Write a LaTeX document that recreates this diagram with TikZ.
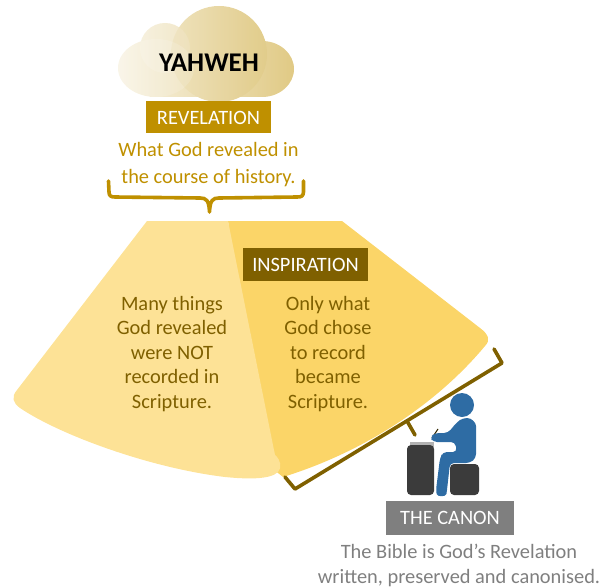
\documentclass[tikz,border=0pt]{standalone}
\usepackage{xcolor}
\usepackage{fontspec}
\setmainfont{Carlito}
\usepackage{tikz}
\usetikzlibrary{positioning,shapes}
\definecolor{revgold}{HTML}{BF9000}
\definecolor{insbrown}{HTML}{7F6000}
\definecolor{canongrey}{HTML}{7F7F7F}
\definecolor{fanlight}{HTML}{FDE296}
\definecolor{fandark}{HTML}{FBD568}
\definecolor{figblue}{HTML}{2E6CA4}
\definecolor{figdark}{HTML}{3B3B3B}

\begin{document}
\begin{tikzpicture}[x=1pt,y=-1pt,
        titlebox/.style={minimum width=#1, minimum height=32pt, inner sep=0pt, text=white, font=\fontsize{20.4}{20.4}\selectfont},
        bodytext/.style={align=center, inner sep=0pt, font=\fontsize{20.4}{24.5}\selectfont},
        bracket/.style={line width=3.6pt, line cap=round, line join=round}]
        \useasboundingbox (0,0) rectangle (607,588);

        % cloud
        \path[left color=revgold!10, right color=revgold!48, draw=none]
            (165,48) circle [radius=25]
            (219,54) circle [radius=48]
            (156,68) ellipse [x radius=38, y radius=29]
            (262,69) ellipse [x radius=32, y radius=28]
            (150,72) -- (265,72) -- (265,97) -- (150,97) -- cycle;
        \fill[white, opacity=0.15] (165,48) circle [radius=25];
        \fill[revgold, opacity=0.06] (219,54) circle [radius=48];
        \fill[white, opacity=0.15] (156,68) ellipse [x radius=38, y radius=29];
        \node[font=\fontsize{27}{27}\selectfont\bfseries, inner sep=0pt] (yahweh) at (209,63) {YAHWEH};

        % revelation
        \node[titlebox=125pt, fill=revgold] (revelation) at (208.5,117.5) {REVELATION};
        \node[bodytext, text=revgold, font=\fontsize{20.4}{27}\selectfont, below=8pt of revelation] (revealed) {What God revealed in\\the course of history.};
        \coordinate (revleft) at (108.5,181);
        \coordinate (revright) at (303.5,181);
        \coordinate (revtip) at (209.5,212);
        \draw[bracket, revgold] (revleft) -- (109,192) .. controls (109,196) and (111,197) .. (115,197)
            -- (200,198) .. controls (206,198) and (209,200) .. (revtip)
            .. controls (210,200) and (213,198) .. (219,198)
            -- (297,197) .. controls (302,197) and (303,196) .. (303.5,192) -- (revright);

        % the fan
        \fill[fandark] (228,221) -- (342,221) -- (480,328)
            .. controls (488,334) and (491,340) .. (485,346)
            .. controls (440,400) and (370,450) .. (283,477)
            -- (262,460) -- cycle;
        \fill[fanlight] (147,221) -- (228,221) -- (275,455)
            .. controls (281,460) and (282,468) .. (278,472)
            .. controls (270,480) and (245,479) .. (225,477)
            .. controls (150,468) and (60,435) .. (20,408)
            .. controls (13,403) and (11,397) .. (17,390) -- cycle;

        \node[titlebox=125pt, fill=insbrown, minimum height=33pt] (inspiration) at (305.5,264.5) {INSPIRATION};
        \node[bodytext, text=insbrown] (notrecorded) at (172,354) {Many things\\God revealed\\were NOT\\recorded in\\Scripture.};
        \node[bodytext, text=insbrown] (recorded) at (328,354) {Only what\\God chose\\to record\\became\\Scripture.};

        \coordinate (canonstart) at (285,477);
        \coordinate (canonend) at (494,349);
        \coordinate (canontick) at (415,435);
        \draw[bracket, insbrown] (canonstart) -- (295,489) -- (502,363) -- (canonend);
        \draw[bracket, insbrown] (407,421) -- (canontick);

        % scribe at the table
        \fill[black!30] (410,442) rectangle (434,448);
        \fill[figdark, rounded corners=4pt] (407,445) rectangle (434,495);
        \fill[figdark, rounded corners=4pt] (450,464) rectangle (479,495);
        \fill[figblue] (462,405) circle [radius=12];
        \draw[insbrown!40!black, line width=1pt] (432,438) -- (438,429);
        \fill[figblue, rounded corners=4pt] (463,418) .. controls (472,418) and (476,423) .. (476,430)
            -- (476,458) -- (470,463) -- (450,463) -- (447,490)
            .. controls (446,497) and (437,497) .. (436,490)
            -- (440,458) -- (443,452) -- (457,452) -- (455,442) -- (433,442)
            -- (430,437) -- (435,433) -- (448,433) -- (457,422) -- cycle;

        \node[titlebox=128pt, fill=canongrey, minimum height=34pt] (canon) at (450,518) {THE CANON};
        \node[bodytext, text=canongrey, below=9pt of canon.south, xshift=9pt, anchor=north] (bible) {The Bible is God’s Revelation\\written, preserved and canonised.};
    \end{tikzpicture}
\end{document}
